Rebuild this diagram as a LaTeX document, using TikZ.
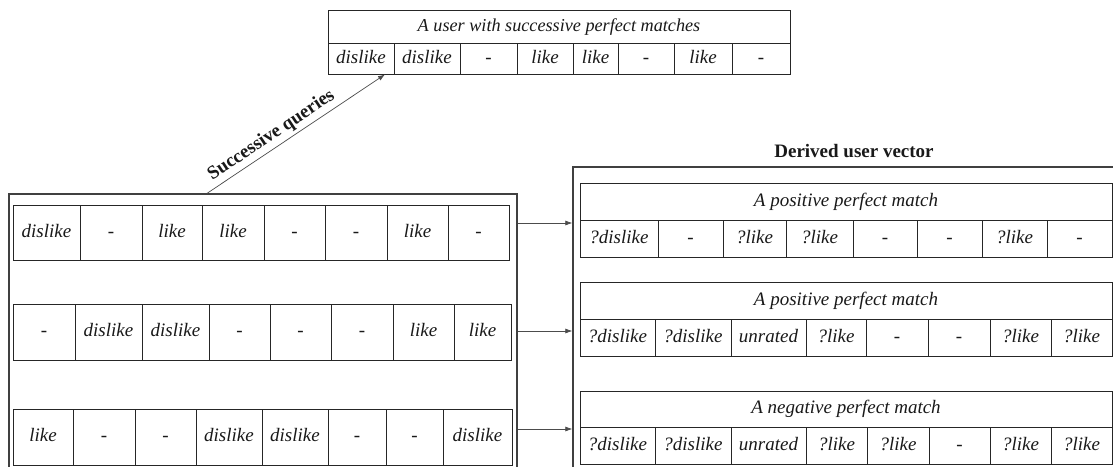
\documentclass[tikz,border=0pt]{standalone}
\usepackage{fontspec}
\setmainfont{Liberation Serif}
\usetikzlibrary{arrows.meta}
\tikzset{
  cell/.style={draw=black!85, line width=0.9pt, inner sep=0pt,
    font=\fontsize{19}{22}\selectfont\itshape, text height=13pt, text depth=4pt, text=black!90},
  frame/.style={draw=black!75, line width=1.3pt, inner sep=0pt},
  conn/.style={draw=black!70, line width=0.7pt, -{Latex[length=7pt,width=5pt]}},
  head/.style={font=\fontsize{19}{22}\selectfont\bfseries, text=black!90},
}
\newcommand{\cellrow}[4]{%
  \foreach \a/\b/\t [count=\i] in {#4} {
    \node[cell, minimum width={\b-\a}, minimum height={#3-#2}] (#1-\i) at ({(\a+\b)/2},{(#2+#3)/2}) {\t};
  }}
\begin{document}
\begin{tikzpicture}[x=1pt,y=-1pt]
\clip (0,0) rectangle (1113,466);
\fill[white] (0,0) rectangle (1113,466);

% top table
\node[cell, minimum width=462, minimum height=33, font=\fontsize{18.2}{21}\selectfont\itshape] (tt) at (559,26.5) {A user with successive perfect matches};
\cellrow{tr}{43}{74}{328/394/dislike, 394/460/dislike, 460/517/-, 517/573/like, 573/618/like, 618/674/-, 674/732/like, 732/790/-}

% left box
\node[frame, minimum width=508, minimum height=281] (lb) at (263,334.5) {};
\cellrow{la}{205}{260}{13/80/dislike, 80/142/-, 142/202/like, 202/264/like, 264/325/-, 325/387/-, 387/448/like, 448/509/-}
\cellrow{lm}{304}{360}{13/75/-, 75/142/dislike, 142/209/dislike, 209/270/-, 270/331/-, 331/393/-, 393/454/like, 454/511/like}
\cellrow{lc}{409}{465}{13/73/like, 73/135/-, 135/196/-, 196/262/dislike, 262/328/dislike, 328/386/-, 386/443/-, 443/512/dislike}

% right box
\node[head] (dl) at (854,151) {Derived user vector};
\node[frame, minimum width=552, minimum height=308] (rb) at (849,321) {};

\node[cell, minimum width=532, minimum height=37] (ta) at (846,201.5) {A positive perfect match};
\cellrow{ra}{220}{257}{580/658/?dislike, 658/723/-, 723/786/?like, 786/853/?like, 853/917/-, 917/982/-, 982/1047/?like, 1047/1112/-}

\node[cell, minimum width=532, minimum height=37] (tb) at (846,300.5) {A positive perfect match};
\cellrow{rm}{319}{356}{580/655/?dislike, 655/731/?dislike, 731/806/unrated, 806/866/?like, 866/928/-, 928/990/-, 990/1051/?like, 1051/1112/?like}

\node[cell, minimum width=532, minimum height=36] (tc) at (846,409) {A negative perfect match};
\cellrow{rc}{427}{464}{580/655/?dislike, 655/731/?dislike, 731/806/unrated, 806/867/?like, 867/929/?like, 929/990/-, 990/1051/?like, 1051/1112/?like}

% connectors
\draw[conn] (lb.north -| 207,0) -- node[pos=0.40, sloped, above, head] {Successive queries} (tr-1.south -| 385,0);
\draw[conn] (lb.east |- 0,223) -- (rb.west |- 0,223);
\draw[conn] (lb.east |- 0,331) -- (rb.west |- 0,331);
\draw[conn] (lb.east |- 0,429) -- (rb.west |- 0,429);
\end{tikzpicture}
\end{document}
